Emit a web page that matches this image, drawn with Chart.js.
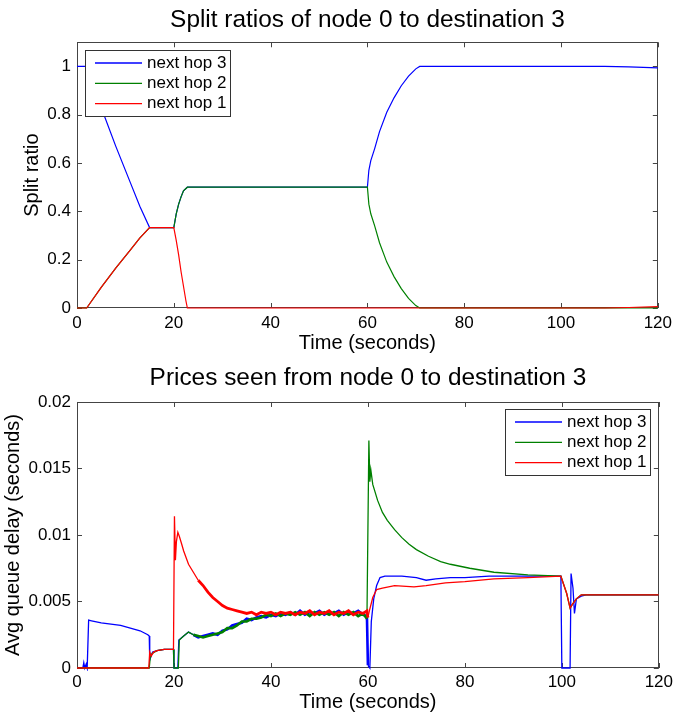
<!DOCTYPE html>
<html>
<head>
<meta charset="utf-8">
<title>Split ratios and prices, node 0 to destination 3</title>
<script src="https://cdn.jsdelivr.net/npm/chart.js@4.4.1/dist/chart.umd.min.js"></script>
<style>
  html, body { margin: 0; padding: 0; background: #fff; }
  canvas { display: block; }
</style>
</head>
<body>
<canvas id="splitChart" width="677" height="358"></canvas>
<canvas id="priceChart" width="677" height="357"></canvas>
<script>
const timeTicks = [0, 20, 40, 60, 80, 100, 120];
const ratioTicks = [0, 0.2, 0.4, 0.6, 0.8, 1];
const delayTicks = [0, 0.005, 0.01, 0.015, 0.02];
const hopLabels = ["next hop 3", "next hop 2", "next hop 1"];
const hopColors = ["#0000ff", "#008000", "#ff0000"];

// split ratios (top)
const hop3RatioTime = [0, 2, 5, 8, 11, 13, 15, 20, 20.5, 21, 21.5, 22, 22.8, 60, 60.3, 60.7, 61.5, 62.5, 64, 65.5, 67, 68.5, 70, 70.8, 109, 114, 120];
const hop3Ratio = [1, 1, 0.83, 0.67, 0.52, 0.42, 0.333, 0.333, 0.39, 0.43, 0.46, 0.485, 0.5, 0.5, 0.57, 0.61, 0.66, 0.73, 0.81, 0.87, 0.92, 0.96, 0.99, 1, 1, 0.998, 0.994];
const hop2RatioTime = [0, 2, 5, 8, 11, 13, 15, 20, 20.5, 21, 21.5, 22, 22.8, 60, 60.3, 60.7, 61.5, 62.5, 64, 65.5, 67, 68.5, 70, 70.8, 120];
const hop2Ratio = [0, 0, 0.085, 0.165, 0.24, 0.29, 0.333, 0.333, 0.39, 0.43, 0.46, 0.485, 0.5, 0.5, 0.43, 0.39, 0.34, 0.27, 0.19, 0.13, 0.08, 0.04, 0.01, 0, 0];
const hop1RatioTime = [0, 2, 5, 8, 11, 13, 15, 20, 20.5, 21, 21.5, 22, 22.5, 22.8, 109, 114, 120];
const hop1Ratio = [0, 0, 0.085, 0.165, 0.24, 0.29, 0.333, 0.333, 0.28, 0.22, 0.15, 0.09, 0.03, 0, 0, 0.002, 0.006];

// avg queue delay (bottom)
const hop3DelayTime = [0, 1.2, 1.4, 1.6, 1.9, 2.1, 2.4, 3, 5, 7, 9, 11, 13, 14.6, 14.9, 15, 15.3, 15.6, 16.5, 18, 19.9, 20, 20.8, 21, 22, 23,
  24, 25, 26, 27, 28, 29, 30, 31, 32, 33, 34, 35, 36, 37, 38, 39, 40, 41, 42, 43, 44, 45, 46, 47, 48, 49, 50, 51, 52, 53, 54, 55, 56, 57, 58, 59,
  59.8, 60, 60.4, 60.7, 61.2, 61.8, 62.5, 63.5, 65, 67, 70, 72, 74, 77, 80, 85, 90, 95, 99.8, 100, 101.7, 101.9, 102.3, 102.6, 103, 104, 105, 110, 115, 120];
const hop3Delay = [0, 0, 0.0004, 0, 0.0003, 0, 0.0036, 0.00355, 0.0034, 0.0033, 0.0032, 0.003, 0.0028, 0.0025, 0.0024, 0.0006, 0.0009, 0.0012, 0.0013, 0.0014, 0.0014, 0, 0, 0.0021, 0.0024, 0.0027,
  0.0025, 0.0023, 0.0024, 0.0025, 0.0026, 0.0025, 0.0028, 0.0029, 0.0032, 0.0033, 0.0034, 0.0037, 0.0036, 0.0038, 0.0039, 0.0038, 0.004, 0.0039, 0.0041, 0.004,
  0.0042, 0.004, 0.0043, 0.004, 0.0042, 0.0041, 0.0043, 0.004, 0.0042, 0.0041, 0.0043, 0.004, 0.0042, 0.0041, 0.0043, 0.004,
  0.0039, 0.0002, 0, 0.0035, 0.0052, 0.0062, 0.0068, 0.0069, 0.0069, 0.0069, 0.0068, 0.0066, 0.0067, 0.0068, 0.0068, 0.0069, 0.0069, 0.0069, 0.0069, 0, 0, 0.0071, 0.006, 0.0041, 0.0052, 0.0054, 0.0055, 0.0055, 0.0055, 0.0055];
const hop2DelayTime = [0, 14.9, 15.1, 15.5, 16.5, 18, 19.9, 20, 20.9, 21.1, 22, 23,
  24, 25, 26, 27, 28, 29, 30, 31, 32, 33, 34, 35, 36, 37, 38, 39, 40, 41, 42, 43, 44, 45, 46, 47, 48, 49, 50, 51, 52, 53, 54, 55, 56, 57, 58, 59,
  59.8, 60.2, 60.4, 60.6, 61, 61.5, 62, 63, 64, 65.5, 67, 68.5, 70, 72.5, 75, 77, 81, 86, 93, 99.8, 101, 101.7, 102.2, 103, 104, 105, 110, 115, 120];
const hop2Delay = [0, 0, 0.0008, 0.0011, 0.0013, 0.0014, 0.0014, 0, 0, 0.0021, 0.0024, 0.0027,
  0.0025, 0.0024, 0.0023, 0.0024, 0.0025, 0.0026, 0.0027, 0.003, 0.003, 0.0032, 0.0035, 0.0035, 0.0037, 0.0037, 0.0038, 0.004, 0.0039, 0.0041,
  0.0039, 0.0041, 0.004, 0.0042, 0.004, 0.0042, 0.0039, 0.0042, 0.004, 0.0042, 0.004, 0.0042, 0.0039, 0.0042, 0.004, 0.0042, 0.0039, 0.0041,
  0.0037, 0.0171, 0.014, 0.0149, 0.0138, 0.0132, 0.0126, 0.0117, 0.0111, 0.0104, 0.0098, 0.0093, 0.0089, 0.0084, 0.008, 0.0078, 0.0075, 0.0072, 0.007, 0.0069,
  0.0056, 0.0045, 0.0048, 0.0052, 0.0055, 0.0055, 0.0055, 0.0055, 0.0055];
const hop1DelayTime = [0, 14.8, 15, 15.3, 15.8, 16.5, 18, 19.9, 20.1, 20.3, 20.5, 20.8, 21.1, 21.6, 22, 23, 24, 25, 26, 27, 28, 29, 30, 31, 32, 33,
  34, 35, 36, 37, 38, 39, 40, 41, 42, 43, 44, 45, 46, 47, 48, 49, 50, 51, 52, 53, 54, 55, 56, 57, 58, 59,
  59.8, 60, 60.3, 61, 61.8, 63, 65.5, 69.5, 72, 76, 80, 86, 93, 99.8, 101, 101.7, 102.2, 103, 104, 105, 110, 115, 120];
const hop1Delay = [0, 0, 0.0012, 0.0009, 0.0012, 0.0013, 0.0014, 0.0014, 0.0114, 0.0081, 0.0095, 0.0102, 0.0099, 0.0093, 0.0088, 0.0078, 0.0072, 0.0066, 0.0062, 0.0057, 0.0053, 0.005, 0.0047, 0.0045, 0.0044, 0.0043,
  0.0042, 0.0041, 0.0042, 0.004, 0.0042, 0.0041, 0.0042, 0.004, 0.0042, 0.0041, 0.0042, 0.004, 0.0042, 0.0041, 0.0043, 0.004, 0.0042, 0.0041, 0.0043, 0.004, 0.0042, 0.0041, 0.0043, 0.004, 0.0042, 0.0041,
  0.0043, 0.0038, 0.0043, 0.0053, 0.0059, 0.006, 0.0062, 0.0061, 0.0062, 0.0064, 0.0065, 0.0067, 0.0068, 0.0069, 0.0056, 0.0045, 0.0048, 0.0052, 0.0055, 0.0055, 0.0055, 0.0055, 0.0055];

const fontFamily = "'Liberation Sans', Arial, Helvetica, sans-serif";
Chart.defaults.font.family = fontFamily;
Chart.defaults.color = "#000";

const toPoints = (ts, vs) => ts.map((t, i) => ({ x: t, y: vs[i] }));

// thicker stroke where the trace is noisy
const bandWidth = (from, to, thin, thick) => (ctx) =>
  ctx.p0.parsed.x >= from && ctx.p1.parsed.x <= to ? thick : thin;

// MATLAB style box with inward ticks on all four sides
const matlabFrame = {
  id: "matlabFrame",
  beforeDatasetsDraw(chart) {
    const { ctx, chartArea: a, scales: { x, y } } = chart;
    ctx.save();
    ctx.strokeStyle = "#444";
    ctx.lineWidth = 1;
    ctx.strokeRect(Math.round(a.left) + 0.5, Math.round(a.top) + 0.5, Math.round(a.width) - 1, Math.round(a.height) - 1);
    ctx.beginPath();
    x.ticks.forEach((t) => {
      const px = Math.round(x.getPixelForValue(t.value)) + 0.5;
      ctx.moveTo(px, a.bottom); ctx.lineTo(px, a.bottom - 5);
      ctx.moveTo(px, a.top); ctx.lineTo(px, a.top + 5);
    });
    y.ticks.forEach((t) => {
      const py = Math.round(y.getPixelForValue(t.value)) + 0.5;
      ctx.moveTo(a.left, py); ctx.lineTo(a.left + 5, py);
      ctx.moveTo(a.right, py); ctx.lineTo(a.right - 5, py);
    });
    ctx.stroke();
    ctx.restore();
  },
};

// legend box drawn inside the axes
const insideLegend = {
  id: "insideLegend",
  afterDatasetsDraw(chart, args, opts) {
    const { ctx, chartArea: a } = chart;
    const w = 145, h = 66, row = 20.3;
    const left = opts.side === "right" ? Math.round(a.right) - 9 - w : Math.round(a.left) + 8;
    const top = Math.round(a.top) + (opts.side === "right" ? 7 : 8);
    ctx.save();
    ctx.fillStyle = "#fff";
    ctx.fillRect(left, top, w, h);
    ctx.strokeStyle = "#333";
    ctx.lineWidth = 1;
    ctx.strokeRect(left + 0.5, top + 0.5, w, h);
    ctx.font = "17px " + fontFamily;
    ctx.textBaseline = "middle";
    chart.data.datasets.forEach((ds, i) => {
      const yy = top + 13 + i * row;
      ctx.strokeStyle = ds.borderColor;
      ctx.lineWidth = 1.3;
      ctx.beginPath();
      ctx.moveTo(left + 10, yy);
      ctx.lineTo(left + 57, yy);
      ctx.stroke();
      ctx.fillStyle = "#000";
      ctx.fillText(ds.label, left + 62, yy);
    });
    ctx.restore();
  },
};

function makeOptions(cfg) {
  return {
    responsive: false,
    animation: false,
    devicePixelRatio: 1,
    layout: { padding: { left: 0, right: 15, top: 0, bottom: 0 } },
    elements: { point: { radius: 0 }, line: { tension: 0 } },
    plugins: {
      legend: { display: false },
      tooltip: { enabled: false },
      insideLegend: { side: cfg.legendSide },
      title: {
        display: true,
        fullSize: false,
        text: cfg.title,
        color: "#000",
        font: { size: 24.4, weight: "normal" },
        padding: { top: cfg.titleTop, bottom: cfg.titleBottom },
      },
    },
    scales: {
      x: {
        type: "linear",
        min: 0,
        max: 120,
        afterBuildTicks: (s) => { s.ticks = timeTicks.map((v) => ({ value: v })); },
        afterFit: (s) => { s.height = cfg.xHeight; },
        grid: { display: false, drawTicks: false },
        border: { display: false },
        ticks: { padding: cfg.xTickPad, font: { size: 17 }, maxRotation: 0, autoSkip: false, callback: (v) => String(v) },
        title: { display: true, text: "Time (seconds)", font: { size: 20 }, padding: { top: 0, bottom: cfg.xTitlePad } },
      },
      y: {
        type: "linear",
        min: 0,
        max: cfg.yMax,
        afterBuildTicks: (s) => { s.ticks = cfg.yTicks.map((v) => ({ value: v })); },
        afterFit: (s) => { s.width = 77; },
        grid: { display: false, drawTicks: false },
        border: { display: false },
        ticks: { padding: 6, font: { size: 17 }, autoSkip: false, callback: (v) => String(v) },
        title: { display: true, text: cfg.yTitle, font: { size: 20 }, padding: { top: cfg.yTitlePad, bottom: 0 } },
      },
    },
  };
}

new Chart("splitChart", {
  type: "line",
  data: {
    datasets: [
      { label: hopLabels[0], data: toPoints(hop3RatioTime, hop3Ratio), borderColor: hopColors[0], borderWidth: 1.2, order: 2, clip: 3 },
      { label: hopLabels[1], data: toPoints(hop2RatioTime, hop2Ratio), borderColor: hopColors[1], borderWidth: 1.2, order: 1, clip: 3 },
      { label: hopLabels[2], data: toPoints(hop1RatioTime, hop1Ratio), borderColor: hopColors[2], borderWidth: 1.2, order: 0, clip: 3 },
    ],
  },
  options: makeOptions({
    title: "Split ratios of node 0 to destination 3",
    titleTop: 6, titleBottom: 7,
    yMax: 1.1, yTicks: ratioTicks, yTitle: "Split ratio", yTitlePad: 20,
    xHeight: 50, xTickPad: 5, xTitlePad: 3,
    legendSide: "left",
  }),
  plugins: [matlabFrame, insideLegend],
});

new Chart("priceChart", {
  type: "line",
  data: {
    datasets: [
      { label: hopLabels[0], data: toPoints(hop3DelayTime, hop3Delay), borderColor: hopColors[0], borderWidth: 1.3, order: 2, clip: 3,
        segment: { borderWidth: bandWidth(24, 60, 1.3, 2.6) } },
      { label: hopLabels[1], data: toPoints(hop2DelayTime, hop2Delay), borderColor: hopColors[1], borderWidth: 1.3, order: 1, clip: 3,
        segment: { borderWidth: bandWidth(24, 60, 1.3, 2.6) } },
      { label: hopLabels[2], data: toPoints(hop1DelayTime, hop1Delay), borderColor: hopColors[2], borderWidth: 1.3, order: 0, clip: 3,
        segment: { borderWidth: bandWidth(25, 60, 1.3, 2.8) } },
    ],
  },
  options: makeOptions({
    title: "Prices seen from node 0 to destination 3",
    titleTop: 5.5, titleBottom: 9.2,
    yMax: 0.02, yTicks: delayTicks, yTitle: "Avg queue delay (seconds)", yTitlePad: 1,
    xHeight: 47, xTickPad: 4, xTitlePad: 1,
    legendSide: "right",
  }),
  plugins: [matlabFrame, insideLegend],
});
</script>
</body>
</html>
